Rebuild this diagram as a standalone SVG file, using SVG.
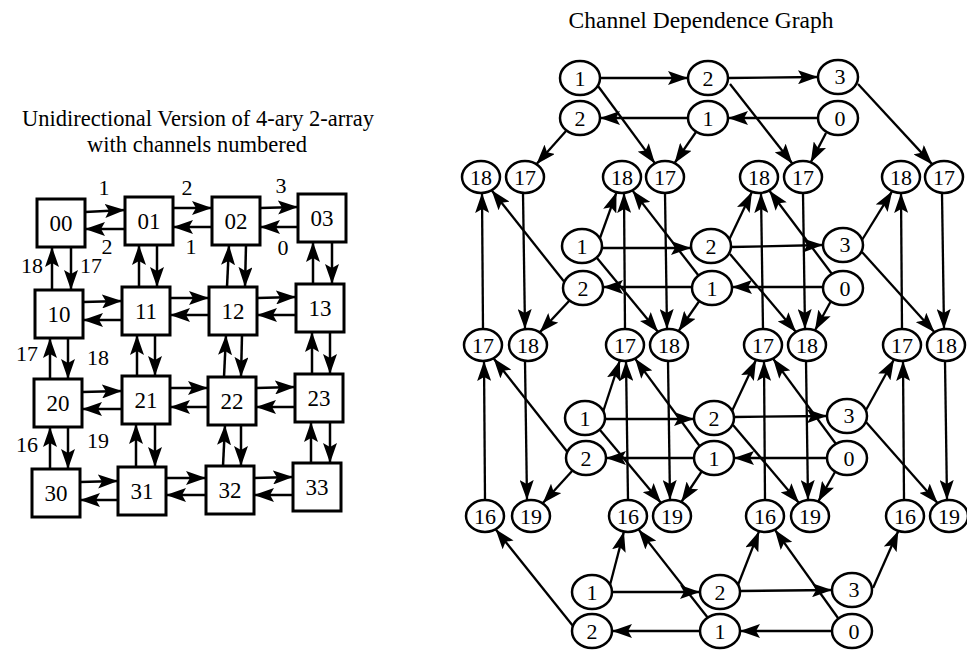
<svg xmlns="http://www.w3.org/2000/svg" width="967" height="652" viewBox="0 0 967 652">
<style>
text{font-family:"Liberation Serif","Times New Roman",serif;fill:#000}
.t{font-size:22.5px;text-anchor:middle}
.b{font-size:23px;text-anchor:middle}
.n{font-size:22px;text-anchor:middle}
.l{font-size:22px;text-anchor:middle}
.box{fill:#fff;stroke:#000;stroke-width:3}
.c{fill:#fff;stroke:#000;stroke-width:2.5}
.e line{stroke:#000;stroke-width:2.5;marker-end:url(#ah)}
.r line{stroke:#000;stroke-width:2.3;marker-end:url(#ah)}
</style>
<defs>
<marker id="ah" markerUnits="userSpaceOnUse" markerWidth="20" markerHeight="14" refX="20" refY="7" orient="auto">
<path d="M0,0 L20,7 L0,14 L4,7 z" fill="#000"/>
</marker>
</defs>
<rect width="967" height="652" fill="#fff"/>
<text class="t" x="198" y="126">Unidirectional Version of 4-ary 2-array</text>
<text class="t" x="197" y="152">with channels numbered</text>
<text class="t" x="701" y="28" style="font-size:23.5px">Channel Dependence Graph</text>

<g id="left-connectors" class="e">
<line x1="85" y1="212" x2="125" y2="210"/><line x1="125" y1="229" x2="85" y2="229"/>
<line x1="173" y1="208" x2="212" y2="208"/><line x1="212" y1="227" x2="173" y2="227"/>
<line x1="260" y1="208" x2="298" y2="207"/><line x1="298" y1="227" x2="260" y2="227"/>
<line x1="83" y1="302" x2="122" y2="301"/><line x1="122" y1="320" x2="83" y2="320"/>
<line x1="170" y1="298" x2="209" y2="298"/><line x1="209" y1="315" x2="170" y2="315"/>
<line x1="257" y1="298" x2="296" y2="297"/><line x1="296" y1="315" x2="257" y2="315"/>
<line x1="82" y1="392" x2="122" y2="391"/><line x1="122" y1="409" x2="82" y2="409"/>
<line x1="170" y1="388" x2="208" y2="388"/><line x1="208" y1="407" x2="170" y2="407"/>
<line x1="256" y1="388" x2="295" y2="387"/><line x1="295" y1="407" x2="256" y2="407"/>
<line x1="80" y1="482" x2="118" y2="481"/><line x1="118" y1="500" x2="80" y2="500"/>
<line x1="166" y1="478" x2="206" y2="478"/><line x1="206" y1="495" x2="166" y2="495"/>
<line x1="254" y1="478" x2="293" y2="477"/><line x1="293" y1="495" x2="254" y2="495"/>
<line x1="52" y1="290" x2="52" y2="247"/><line x1="71" y1="247" x2="71" y2="290"/>
<line x1="50" y1="379" x2="50" y2="338"/><line x1="68" y1="338" x2="68" y2="379"/>
<line x1="50" y1="469" x2="50" y2="427"/><line x1="68" y1="427" x2="68" y2="469"/>
<line x1="139" y1="287" x2="139" y2="245"/><line x1="157" y1="245" x2="157" y2="287"/>
<line x1="137" y1="376" x2="137" y2="335"/><line x1="155" y1="335" x2="155" y2="376"/>
<line x1="136" y1="467" x2="136" y2="424"/><line x1="155" y1="424" x2="155" y2="467"/>
<line x1="227" y1="287" x2="229" y2="245"/><line x1="246" y1="245" x2="245" y2="287"/>
<line x1="224" y1="377" x2="226" y2="335"/><line x1="242" y1="335" x2="241" y2="377"/>
<line x1="223" y1="466" x2="225" y2="425"/><line x1="241" y1="425" x2="241" y2="466"/>
<line x1="313" y1="284" x2="313" y2="242"/><line x1="332" y1="242" x2="332" y2="284"/>
<line x1="312" y1="374" x2="312" y2="332"/><line x1="330" y1="332" x2="330" y2="374"/>
<line x1="311" y1="463" x2="311" y2="422"/><line x1="330" y1="422" x2="330" y2="463"/>
</g>
<g id="left-labels">
<text class="l" x="104" y="195">1</text><text class="l" x="187" y="195">2</text><text class="l" x="281" y="193">3</text>
<text class="l" x="107" y="254">2</text><text class="l" x="191" y="254">1</text><text class="l" x="283" y="255">0</text>
<text class="l" x="32" y="273">18</text><text class="l" x="91" y="273">17</text>
<text class="l" x="27" y="361">17</text><text class="l" x="98" y="365">18</text>
<text class="l" x="27" y="452">16</text><text class="l" x="98" y="448">19</text>
</g>
<g id="n00"><rect class="box" x="37" y="199" width="48" height="48"/><text class="b" x="61" y="231">00</text></g>
<g id="n01"><rect class="box" x="125" y="197" width="48" height="48"/><text class="b" x="149" y="229">01</text></g>
<g id="n02"><rect class="box" x="212" y="197" width="48" height="48"/><text class="b" x="236" y="229">02</text></g>
<g id="n03"><rect class="box" x="298" y="194" width="48" height="48"/><text class="b" x="322" y="226">03</text></g>
<g id="n10"><rect class="box" x="35" y="290" width="48" height="48"/><text class="b" x="59" y="322">10</text></g>
<g id="n11"><rect class="box" x="122" y="287" width="48" height="48"/><text class="b" x="146" y="319">11</text></g>
<g id="n12"><rect class="box" x="209" y="287" width="48" height="48"/><text class="b" x="233" y="319">12</text></g>
<g id="n13"><rect class="box" x="296" y="284" width="48" height="48"/><text class="b" x="320" y="316">13</text></g>
<g id="n20"><rect class="box" x="34" y="379" width="48" height="48"/><text class="b" x="58" y="411">20</text></g>
<g id="n21"><rect class="box" x="122" y="376" width="48" height="48"/><text class="b" x="146" y="408">21</text></g>
<g id="n22"><rect class="box" x="208" y="377" width="48" height="48"/><text class="b" x="232" y="409">22</text></g>
<g id="n23"><rect class="box" x="295" y="374" width="48" height="48"/><text class="b" x="319" y="406">23</text></g>
<g id="n30"><rect class="box" x="32" y="469" width="48" height="48"/><text class="b" x="56" y="501">30</text></g>
<g id="n31"><rect class="box" x="118" y="467" width="48" height="48"/><text class="b" x="142" y="499">31</text></g>
<g id="n32"><rect class="box" x="206" y="466" width="48" height="48"/><text class="b" x="230" y="498">32</text></g>
<g id="n33"><rect class="box" x="293" y="463" width="48" height="48"/><text class="b" x="317" y="495">33</text></g>

<g id="cdg-connectors" class="r">
<line x1="600" y1="78" x2="688" y2="78"/><line x1="728" y1="78" x2="818" y2="77"/>
<line x1="818" y1="118" x2="728" y2="118"/><line x1="688" y1="118" x2="600" y2="118"/>
<line x1="598" y1="86" x2="655" y2="163.4"/>
<line x1="730" y1="84" x2="792.5" y2="163.7"/>
<line x1="858" y1="84" x2="932.3" y2="164.4"/>
<line x1="566" y1="131" x2="536.4" y2="164.2"/>
<line x1="696" y1="132" x2="674.5" y2="163.2"/>
<line x1="826" y1="133" x2="810.7" y2="162.4"/>
<line x1="523" y1="193" x2="525" y2="329"/><line x1="665" y1="193" x2="667" y2="329"/>
<line x1="803" y1="193" x2="805" y2="329"/><line x1="942" y1="193" x2="944" y2="329"/>
<line x1="483" y1="329" x2="482" y2="193"/><line x1="625" y1="329" x2="624" y2="193"/>
<line x1="763" y1="329" x2="761" y2="193"/><line x1="902" y1="329" x2="901" y2="193"/>
<line x1="602" y1="248" x2="691" y2="248"/><line x1="731" y1="247" x2="823" y2="245"/>
<line x1="823" y1="287" x2="732" y2="287"/><line x1="692" y1="287" x2="603" y2="287"/>
<line x1="600" y1="238" x2="616.5" y2="192.3"/>
<line x1="597" y1="258" x2="658.1" y2="331.9"/>
<line x1="729" y1="240" x2="751.9" y2="191.9"/>
<line x1="730" y1="254" x2="796" y2="332"/>
<line x1="862" y1="240" x2="892.2" y2="191.2"/>
<line x1="862" y1="252" x2="934.5" y2="332.3"/>
<line x1="566" y1="284" x2="491.6" y2="190.3"/>
<line x1="570" y1="300" x2="539.7" y2="332.4"/>
<line x1="702" y1="280" x2="632.4" y2="190.4"/>
<line x1="700" y1="300" x2="678.5" y2="331.2"/>
<line x1="832" y1="274" x2="769.2" y2="190.5"/>
<line x1="831" y1="301" x2="814.9" y2="330.5"/>
<line x1="485" y1="500" x2="484" y2="361"/><line x1="628" y1="500" x2="626" y2="361"/>
<line x1="765" y1="500" x2="764" y2="361"/><line x1="904" y1="500" x2="903" y2="361"/>
<line x1="525" y1="361" x2="527" y2="500"/><line x1="668" y1="361" x2="670" y2="500"/>
<line x1="806" y1="361" x2="808" y2="500"/><line x1="945" y1="361" x2="947" y2="500"/>
<line x1="605" y1="419" x2="694" y2="419"/><line x1="734" y1="417" x2="827" y2="416"/>
<line x1="827" y1="458" x2="734" y2="458"/><line x1="694" y1="458" x2="606" y2="458"/>
<line x1="603" y1="412" x2="619.9" y2="360.4"/>
<line x1="600" y1="430" x2="661.1" y2="502.9"/>
<line x1="732" y1="411" x2="756" y2="359.9"/>
<line x1="733" y1="425" x2="799" y2="503"/>
<line x1="866" y1="410" x2="894" y2="359.5"/>
<line x1="866" y1="422" x2="937.7" y2="503.2"/>
<line x1="569" y1="454" x2="493.5" y2="358.3"/>
<line x1="573" y1="470" x2="542.7" y2="503.2"/>
<line x1="704" y1="452" x2="635" y2="358.6"/>
<line x1="702" y1="471" x2="681.3" y2="502"/>
<line x1="836" y1="444" x2="773" y2="358.6"/>
<line x1="835" y1="472" x2="818.2" y2="501.6"/>
<line x1="612" y1="592" x2="700" y2="592"/><line x1="740" y1="591" x2="832" y2="590"/>
<line x1="832" y1="631" x2="740" y2="631"/><line x1="700" y1="631" x2="612" y2="631"/>
<line x1="610" y1="585" x2="623.9" y2="531.6"/>
<line x1="738" y1="585" x2="759.1" y2="531.2"/>
<line x1="873" y1="588" x2="898.3" y2="531"/>
<line x1="573" y1="626" x2="495.6" y2="529.3"/>
<line x1="708" y1="618" x2="638.5" y2="529.4"/>
<line x1="838" y1="618" x2="774.8" y2="529.7"/>
</g>

<g id="a18-1"><ellipse class="c" cx="481" cy="177" rx="19" ry="16"/><text class="n" x="481" y="185">18</text></g>
<g id="a17-1"><ellipse class="c" cx="525" cy="177" rx="19" ry="16"/><text class="n" x="525" y="185">17</text></g>
<g id="a18-2"><ellipse class="c" cx="622" cy="177" rx="19" ry="16"/><text class="n" x="622" y="185">18</text></g>
<g id="a17-2"><ellipse class="c" cx="665" cy="177" rx="19" ry="16"/><text class="n" x="665" y="185">17</text></g>
<g id="a18-3"><ellipse class="c" cx="759" cy="177" rx="19" ry="16"/><text class="n" x="759" y="185">18</text></g>
<g id="a17-3"><ellipse class="c" cx="803" cy="177" rx="19" ry="16"/><text class="n" x="803" y="185">17</text></g>
<g id="a18-4"><ellipse class="c" cx="901" cy="177" rx="19" ry="16"/><text class="n" x="901" y="185">18</text></g>
<g id="a17-4"><ellipse class="c" cx="944" cy="177" rx="19" ry="16"/><text class="n" x="944" y="185">17</text></g>
<g id="b17-1"><ellipse class="c" cx="483" cy="345" rx="19" ry="16"/><text class="n" x="483" y="353">17</text></g>
<g id="b18-1"><ellipse class="c" cx="528" cy="345" rx="19" ry="16"/><text class="n" x="528" y="353">18</text></g>
<g id="b17-2"><ellipse class="c" cx="625" cy="345" rx="19" ry="16"/><text class="n" x="625" y="353">17</text></g>
<g id="b18-2"><ellipse class="c" cx="669" cy="345" rx="19" ry="16"/><text class="n" x="669" y="353">18</text></g>
<g id="b17-3"><ellipse class="c" cx="763" cy="345" rx="19" ry="16"/><text class="n" x="763" y="353">17</text></g>
<g id="b18-3"><ellipse class="c" cx="807" cy="345" rx="19" ry="16"/><text class="n" x="807" y="353">18</text></g>
<g id="b17-4"><ellipse class="c" cx="902" cy="345" rx="19" ry="16"/><text class="n" x="902" y="353">17</text></g>
<g id="b18-4"><ellipse class="c" cx="946" cy="345" rx="19" ry="16"/><text class="n" x="946" y="353">18</text></g>
<g id="c16-1"><ellipse class="c" cx="485" cy="516" rx="19" ry="16"/><text class="n" x="485" y="524">16</text></g>
<g id="c19-1"><ellipse class="c" cx="531" cy="516" rx="19" ry="16"/><text class="n" x="531" y="524">19</text></g>
<g id="c16-2"><ellipse class="c" cx="628" cy="516" rx="19" ry="16"/><text class="n" x="628" y="524">16</text></g>
<g id="c19-2"><ellipse class="c" cx="672" cy="516" rx="19" ry="16"/><text class="n" x="672" y="524">19</text></g>
<g id="c16-3"><ellipse class="c" cx="765" cy="516" rx="19" ry="16"/><text class="n" x="765" y="524">16</text></g>
<g id="c19-3"><ellipse class="c" cx="810" cy="516" rx="19" ry="16"/><text class="n" x="810" y="524">19</text></g>
<g id="c16-4"><ellipse class="c" cx="905" cy="516" rx="19" ry="16"/><text class="n" x="905" y="524">16</text></g>
<g id="c19-4"><ellipse class="c" cx="949" cy="516" rx="19" ry="16"/><text class="n" x="949" y="524">19</text></g>
<g id="p1-t1"><ellipse class="c" cx="580" cy="78" rx="20" ry="17"/><text class="n" x="580" y="86">1</text></g>
<g id="p1-t2"><ellipse class="c" cx="708" cy="78" rx="20" ry="17"/><text class="n" x="708" y="86">2</text></g>
<g id="p1-t3"><ellipse class="c" cx="838" cy="77" rx="20" ry="17"/><text class="n" x="840" y="84">3</text></g>
<g id="p1-l2"><ellipse class="c" cx="580" cy="118" rx="20" ry="17"/><text class="n" x="580" y="126">2</text></g>
<g id="p1-l1"><ellipse class="c" cx="708" cy="118" rx="20" ry="17"/><text class="n" x="708" y="126">1</text></g>
<g id="p1-l0"><ellipse class="c" cx="838" cy="118" rx="20" ry="17"/><text class="n" x="840" y="126">0</text></g>
<g id="p2-t1"><ellipse class="c" cx="582" cy="246" rx="20" ry="17"/><text class="n" x="582" y="254">1</text></g>
<g id="p2-t2"><ellipse class="c" cx="711" cy="246" rx="20" ry="17"/><text class="n" x="711" y="254">2</text></g>
<g id="p2-t3"><ellipse class="c" cx="843" cy="245" rx="20" ry="17"/><text class="n" x="845" y="252">3</text></g>
<g id="p2-l2"><ellipse class="c" cx="583" cy="288" rx="20" ry="17"/><text class="n" x="583" y="296">2</text></g>
<g id="p2-l1"><ellipse class="c" cx="712" cy="288" rx="20" ry="17"/><text class="n" x="712" y="296">1</text></g>
<g id="p2-l0"><ellipse class="c" cx="843" cy="288" rx="20" ry="17"/><text class="n" x="845" y="296">0</text></g>
<g id="p3-t1"><ellipse class="c" cx="585" cy="418" rx="20" ry="17"/><text class="n" x="585" y="426">1</text></g>
<g id="p3-t2"><ellipse class="c" cx="714" cy="418" rx="20" ry="17"/><text class="n" x="714" y="426">2</text></g>
<g id="p3-t3"><ellipse class="c" cx="847" cy="416" rx="20" ry="17"/><text class="n" x="849" y="423">3</text></g>
<g id="p3-l2"><ellipse class="c" cx="586" cy="458" rx="20" ry="17"/><text class="n" x="586" y="466">2</text></g>
<g id="p3-l1"><ellipse class="c" cx="714" cy="458" rx="20" ry="17"/><text class="n" x="714" y="466">1</text></g>
<g id="p3-l0"><ellipse class="c" cx="847" cy="458" rx="20" ry="17"/><text class="n" x="849" y="466">0</text></g>
<g id="p4-t1"><ellipse class="c" cx="592" cy="592" rx="20" ry="17"/><text class="n" x="592" y="600">1</text></g>
<g id="p4-t2"><ellipse class="c" cx="720" cy="592" rx="20" ry="17"/><text class="n" x="720" y="600">2</text></g>
<g id="p4-t3"><ellipse class="c" cx="852" cy="590" rx="20" ry="17"/><text class="n" x="854" y="597">3</text></g>
<g id="p4-l2"><ellipse class="c" cx="592" cy="631" rx="20" ry="17"/><text class="n" x="592" y="639">2</text></g>
<g id="p4-l1"><ellipse class="c" cx="720" cy="631" rx="20" ry="17"/><text class="n" x="720" y="639">1</text></g>
<g id="p4-l0"><ellipse class="c" cx="852" cy="631" rx="20" ry="17"/><text class="n" x="854" y="639">0</text></g>
</svg>
